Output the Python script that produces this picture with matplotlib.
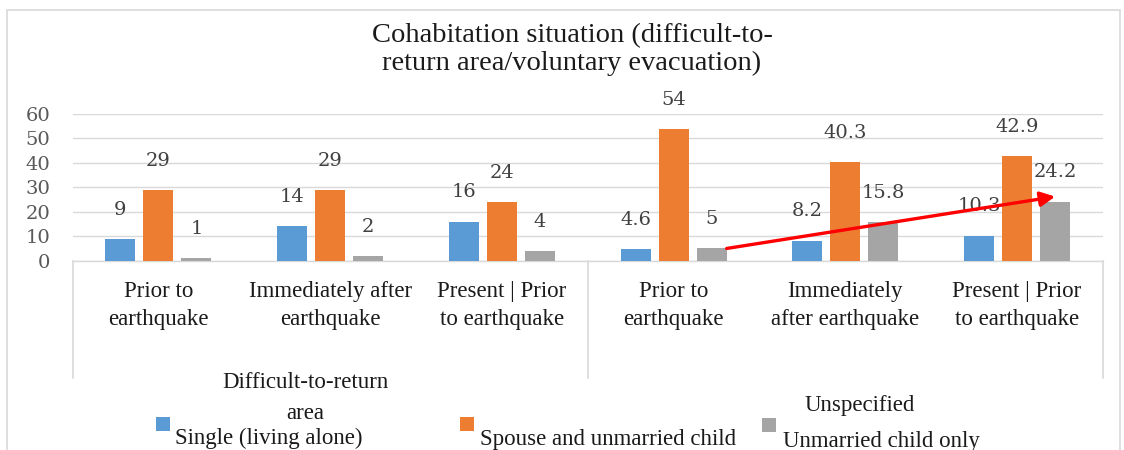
import matplotlib
matplotlib.use("Agg")
import matplotlib.pyplot as plt
from matplotlib.patches import Rectangle
from matplotlib.lines import Line2D
import matplotlib.transforms as mtransforms
import numpy as np

# ---------------- data ----------------
title = "Cohabitation situation (difficult-to-\nreturn area/voluntary evacuation)"
categories = ["Prior to\nearthquake", "Immediately after\nearthquake", "Present | Prior\nto earthquake",
              "Prior to\nearthquake", "Immediately\nafter earthquake", "Present | Prior\nto earthquake"]
single = [9, 14, 16, 4.6, 8.2, 10.3]
spouse_child = [29, 29, 24, 54, 40.3, 42.9]
unspecified = [1, 2, 4, 5, 15.8, 24.2]
single_labels = ["9", "14", "16", "4.6", "8.2", "10.3"]
spouse_labels = ["29", "29", "24", "54", "40.3", "42.9"]
unspec_labels = ["1", "2", "4", "5", "15.8", "24.2"]
group_label = "Difficult-to-return\narea"
legend_names = ["Single (living alone)", "Spouse and unmarried child", "Unmarried child only"]
legend_extra = "Unspecified"
yticks = [0, 10, 20, 30, 40, 50, 60]

# ---------------- style ----------------
W, H = 1124, 450
C_BLUE, C_ORANGE, C_GRAY = "#5B9BD5", "#ED7D31", "#A5A5A5"
TXT = "Liberation Serif"
NUM = "DejaVu Serif"

def fx(p):
    return p / W

def fy(p):
    return 1 - p / H

fig = plt.figure(figsize=(W / 100, H / 100), dpi=100)
fig.patch.set_facecolor("white")

# outer chart border
fig.patches.append(Rectangle((fx(7), fy(470)), fx(1113), 460 / H, transform=fig.transFigure,
                             fill=False, edgecolor="#d9d9d9", linewidth=1.2))

ax_l, ax_r, ax_t, ax_b = 72.5, 1103, 114, 260.7
ax = fig.add_axes([fx(ax_l), fy(ax_b), fx(ax_r - ax_l), (ax_b - ax_t) / H])

x = np.arange(len(categories))
bw = 0.1747
pitch = 0.2213
series = [(single, C_BLUE, single_labels), (spouse_child, C_ORANGE, spouse_labels),
          (unspecified, C_GRAY, unspec_labels)]
for k, (vals, col, labs) in enumerate(series):
    xs = x + (k - 1) * pitch
    ax.bar(xs, vals, width=bw, color=col, zorder=3)
    for xi, v, lab in zip(xs, vals, labs):
        ax.annotate(lab, xy=(xi, v), xytext=(0, 21), textcoords="offset points",
                    ha="center", va="center", fontsize=14, family=NUM, color="#404040",
                    annotation_clip=False, zorder=5)

ax.set_xlim(-0.5, len(categories) - 0.5)
ax.set_ylim(0, 60)
ax.set_yticks(yticks)
ax.set_yticklabels([str(t) for t in yticks], family=NUM, fontsize=14, color="#595959")
ax.tick_params(axis="y", length=0, pad=16)
ax.tick_params(axis="x", length=0, labelbottom=False)
ax.grid(axis="y", color="#d9d9d9", linewidth=1, zorder=0)
for s in ["top", "right", "left"]:
    ax.spines[s].set_visible(False)
ax.spines["bottom"].set_color("#d9d9d9")
ax.spines["bottom"].set_linewidth(1)
ax.set_facecolor("white")

# category labels
for xi, lab in zip(x, categories):
    ax.annotate(lab, xy=(xi, 0), xycoords=("data", "axes fraction"), xytext=(0, -32.5),
                textcoords="offset points", ha="center", va="center", fontsize=16.5,
                family=TXT, color="#1a1a1a", linespacing=1.45, annotation_clip=False)

# group separators
trans = mtransforms.blended_transform_factory(ax.transData, ax.transAxes)
sep_bottom = -(378 - ax_b) / (ax_b - ax_t)
for xb in [-0.5, 2.5, 5.5]:
    ax.add_line(Line2D([xb, xb], [0, sep_bottom], transform=trans, color="#d9d9d9",
                       linewidth=1.2, clip_on=False))

# red trend arrow
ax.annotate("", xy=(x[5] + pitch, unspecified[5] + 2),
            xytext=(x[3] + pitch + bw / 2, unspecified[3]),
            arrowprops=dict(arrowstyle="-|>", color="#ff0000", lw=2.4, mutation_scale=22,
                            shrinkA=0, shrinkB=0), zorder=6)

# title
fig.text(fx(572), fy(49.5), title, ha="center", va="center", fontsize=20.5, family=TXT,
         color="#1a1a1a", linespacing=1.12)

# group label + legend (as laid out in the source)
fig.text(fx(305), fy(398), group_label, ha="center", va="center", fontsize=16.5, family=TXT,
         color="#1a1a1a", linespacing=1.6)
fig.text(fx(860), fy(406), legend_extra, ha="center", va="center", fontsize=16.5, family=TXT,
         color="#1a1a1a")
sq = 14
for (sx, sy), col, (tx, ty), name in zip([(156, 417), (460, 417), (762, 418)],
                                         [C_BLUE, C_ORANGE, C_GRAY],
                                         [(175, 438), (480, 440), (783, 441)], legend_names):
    fig.patches.append(Rectangle((fx(sx), fy(sy + sq)), sq / W, sq / H, transform=fig.transFigure,
                                 facecolor=col, edgecolor="none"))
    fig.text(fx(tx), fy(ty), name, ha="left", va="center", fontsize=16.5, family=TXT,
             color="#1a1a1a")

fig.savefig("out.png", dpi=100)
